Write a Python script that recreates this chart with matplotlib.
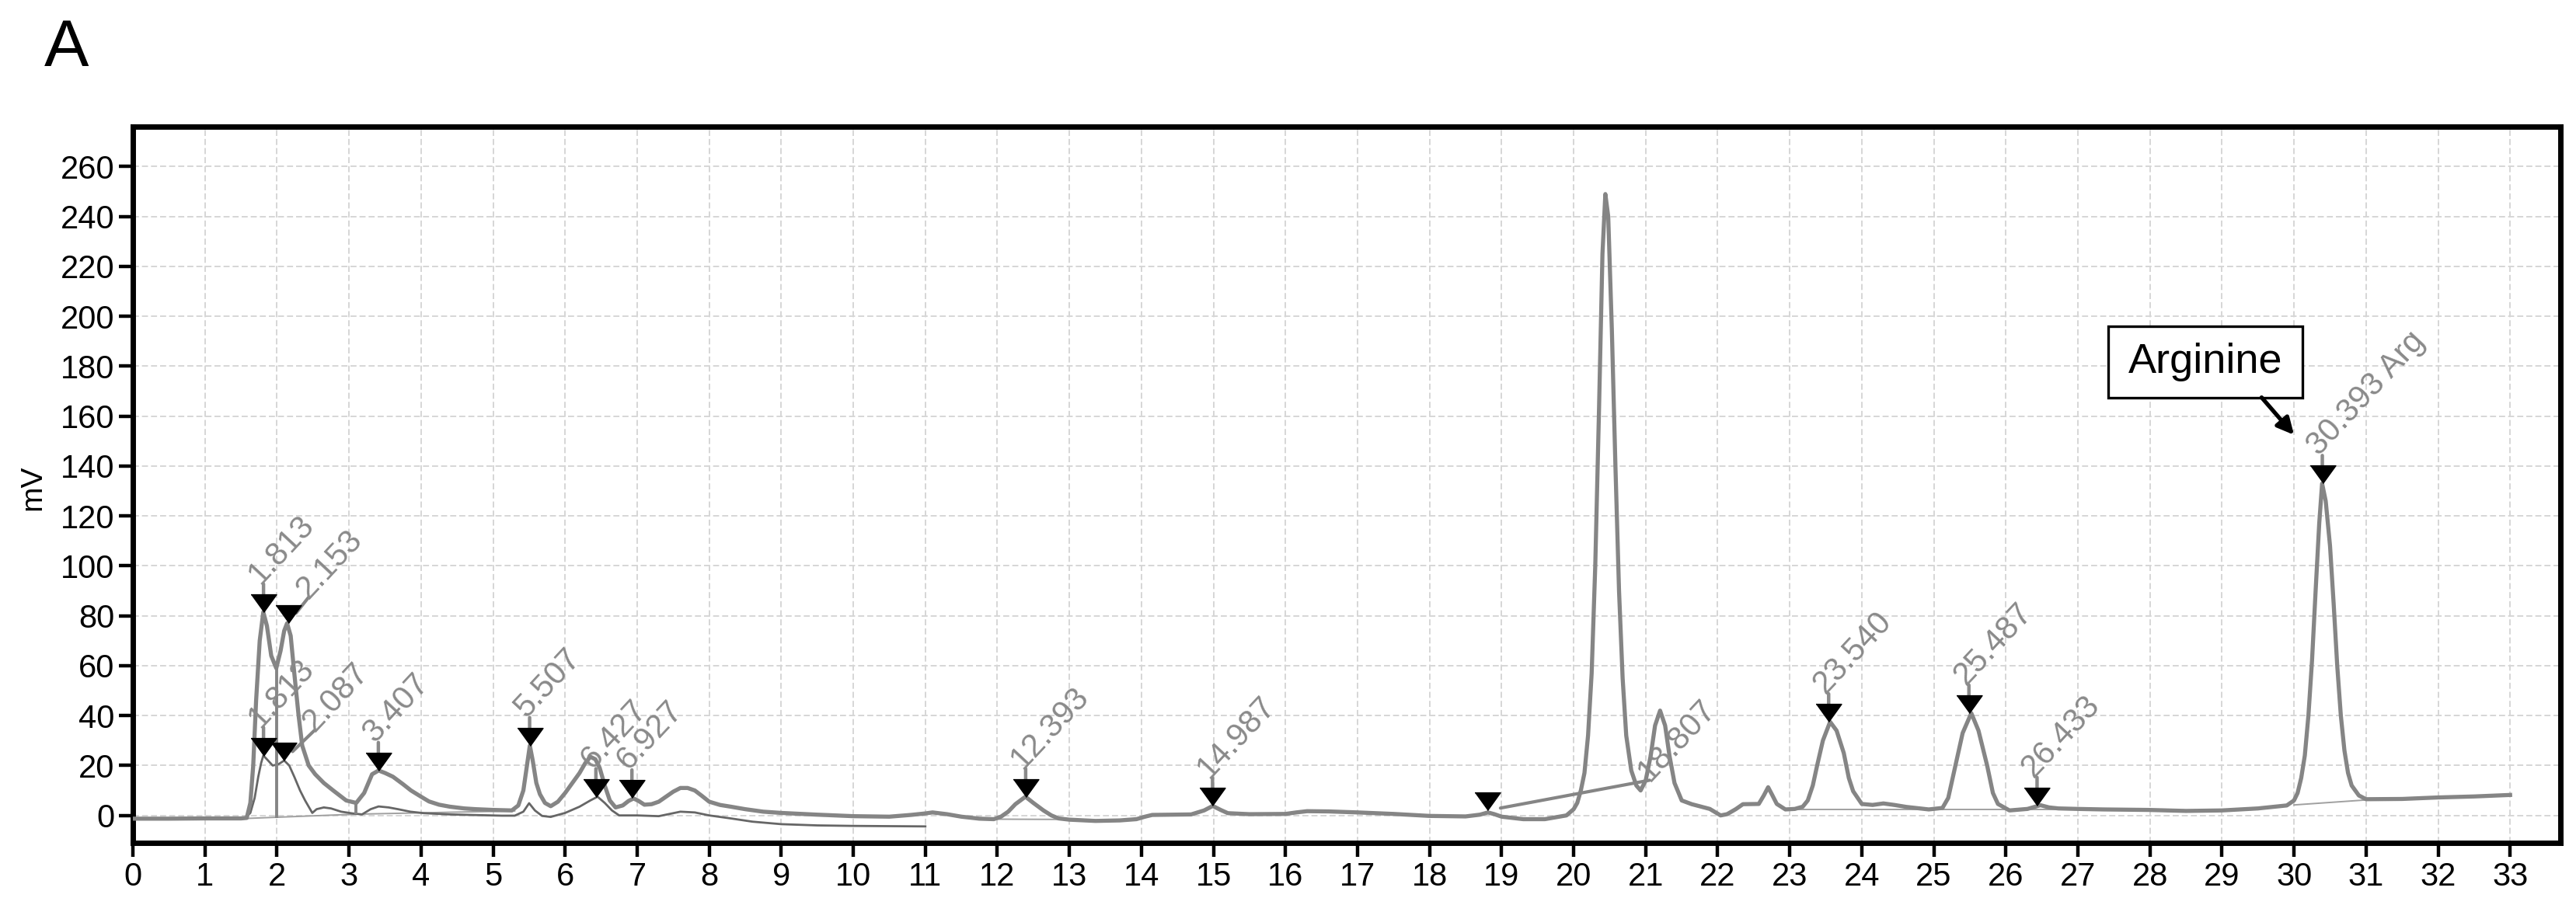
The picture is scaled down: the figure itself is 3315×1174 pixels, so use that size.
import matplotlib
matplotlib.use('Agg')
import matplotlib.pyplot as plt
from matplotlib.patches import Rectangle

plt.rcParams['font.family'] = ['Liberation Sans', 'DejaVu Sans']

# sample chromatogram (thick grey trace), retention time in min / signal in mV
sample_rt = [0.0, 0.5, 1.0, 1.5, 1.58, 1.63, 1.67, 1.71, 1.76, 1.81, 1.86, 1.92, 1.99, 2.05, 2.1,
             2.14, 2.19, 2.24, 2.3, 2.35, 2.44, 2.53, 2.65, 2.78, 2.96, 3.1, 3.21, 3.32, 3.41, 3.5,
             3.61, 3.75, 3.86, 4.0, 4.11, 4.25, 4.4, 4.6, 4.76, 5.0, 5.26, 5.35, 5.42, 5.47, 5.51,
             5.55, 5.6, 5.65, 5.72, 5.8, 5.9, 6.0, 6.1, 6.2, 6.28, 6.35, 6.42, 6.48, 6.55, 6.62,
             6.7, 6.8, 6.88, 6.95, 7.02, 7.1, 7.2, 7.3, 7.4, 7.5, 7.6, 7.7, 7.8, 7.9, 8.0,
             8.15, 8.3, 8.5, 8.75, 9.0, 9.5, 10.0, 10.5, 10.8, 11.0, 11.1, 11.3, 11.5, 11.75, 11.95,
             12.05, 12.15, 12.25, 12.39, 12.5, 12.64, 12.75, 12.85, 13.0, 13.36, 13.7, 13.93, 14.05, 14.15, 14.4,
             14.69, 14.87, 14.99, 15.1, 15.2, 15.5, 16.0, 16.15, 16.3, 16.6, 17.0, 17.5, 18.0, 18.5, 18.7,
             18.81, 18.9, 19.0, 19.3, 19.6, 19.9, 20.0, 20.05, 20.1, 20.15, 20.2, 20.25, 20.3, 20.35, 20.4,
             20.44, 20.48, 20.53, 20.58, 20.63, 20.68, 20.73, 20.8, 20.87, 20.93, 21.0, 21.07, 21.13, 21.2, 21.27,
             21.33, 21.4, 21.5, 21.64, 21.89, 22.04, 22.13, 22.25, 22.35, 22.57, 22.64, 22.7, 22.76, 22.82, 22.94,
             23.07, 23.18, 23.25, 23.32, 23.38, 23.46, 23.56, 23.65, 23.75, 23.82, 23.88, 24.0, 24.15, 24.3, 24.45,
             24.62, 24.93, 25.12, 25.2, 25.3, 25.4, 25.52, 25.62, 25.74, 25.82, 25.89, 26.05, 26.3, 26.48, 26.6,
             26.73, 27.0, 27.35, 27.98, 28.5, 29.0, 29.5, 29.9, 30.0, 30.05, 30.1, 30.15, 30.2, 30.25, 30.3,
             30.35, 30.39, 30.44, 30.5, 30.55, 30.6, 30.65, 30.7, 30.75, 30.8, 30.9, 31.0, 31.5, 32.0, 32.5,
             33.0]
sample_mv = [-1.3, -1.3, -1.2, -1.2, -1.0, 5, 20, 46, 70, 81.5, 76, 64, 59, 66, 74,
             77, 72, 57, 40, 28, 20, 16.5, 13, 10, 6, 5, 9, 16.5, 18, 17,
             15.5, 12.5, 10, 7.5, 5.6, 4.3, 3.5, 2.8, 2.5, 2.2, 2.0, 4, 10, 20, 28,
             22, 13, 8.5, 5, 3.7, 5.5, 9, 13, 17, 21, 23.5, 22.5, 19, 12, 6,
             3.2, 4, 5.8, 6.8, 5.8, 4.3, 4.5, 5.5, 7.5, 9.5, 11, 11, 10, 7.8, 5.5,
             4.2, 3.5, 2.5, 1.5, 1, 0.3, -0.3, -0.5, 0.2, 0.8, 1.2, 0.5, -0.5, -1.3, -1.5,
             -0.5, 1.5, 4.5, 7.5, 5, 2, 0, -1.2, -1.7, -2.2, -2, -1.5, -0.5, 0.2, 0.3,
             0.4, 2, 3.8, 2.2, 0.9, 0.5, 0.6, 1.2, 1.7, 1.6, 1.2, 0.6, -0.2, -0.4, 0.3,
             1.2, 0.5, -0.5, -1.5, -1.5, 0, 2.5, 5, 10, 17, 32, 57, 100, 160, 225,
             249, 240, 195, 140, 90, 55, 32, 18, 12, 10, 14, 24, 36, 42, 36,
             24, 13, 6, 4.5, 2.6, 0, 0.5, 2.5, 4.5, 4.6, 8, 11.3, 8, 4.6, 2.4,
             2.6, 3.5, 6, 12, 20, 30, 37.5, 34, 25, 15, 9.7, 4.6, 4.2, 4.8, 4.2,
             3.4, 2.4, 3, 7, 20, 33, 41, 34, 20, 9, 4.6, 2, 2.6, 4.1, 3.2,
             2.8, 2.6, 2.4, 2.2, 1.8, 2, 2.8, 4, 6, 9, 15, 24, 40, 62, 90,
             117, 133, 126, 108, 85, 60, 40, 26, 17, 12, 8, 6.5, 6.6, 7.2, 7.6,
             8.2]

# second chromatogram (thin darker trace), recorded up to 11 min
std_rt = [0.0, 1.0, 1.55, 1.63, 1.69, 1.74, 1.78, 1.81, 1.86, 1.94, 2.02, 2.1, 2.17, 2.24, 2.32,
          2.39, 2.49, 2.55, 2.65, 2.75, 2.89, 3.05, 3.18, 3.3, 3.41, 3.55, 3.68, 3.85, 4.04, 4.4,
          5.12, 5.3, 5.42, 5.5, 5.58, 5.68, 5.8, 6.0, 6.2, 6.35, 6.45, 6.55, 6.65, 6.75, 7.0,
          7.3, 7.6, 7.8, 8.0, 8.3, 8.6, 9.0, 9.5, 10.0, 11.0]
std_mv = [-1.4, -1.3, -1.2, 1, 7, 15.5, 21, 24, 22.5, 20, 20.5, 22, 20, 15.5, 10,
          6, 1, 2.5, 3.2, 2.8, 1.5, 0.8, 0.4, 2.5, 3.6, 3.2, 2.5, 1.5, 0.9, 0.4,
          -0.1, -0.1, 1.5, 4.9, 2, -0.2, -0.6, 1, 3.5, 6, 7.5, 5, 2, 0, 0,
          -0.3, 1.5, 1.2, 0, -1.2, -2.5, -3.5, -4, -4.2, -4.4]

# integration baselines (start/end retention time and level)
base_rt0 = [1.58, 3.1, 11.98, 22.95, 30.0]
base_rt1 = [3.1, 5.3, 12.85, 27.0, 31.0]
base_mv0 = [-1.2, 0.5, -1.5, 2.4, 4.2]
base_mv1 = [0.5, 1.8, -1.6, 2.4, 6.2]

# peak separation drop lines
drop_rt = [2.0, 3.1]
drop_top = [59, 5]
drop_bottom = [-1.0, 0.5]

# detected peaks
peak_rt = [1.813, 2.153, 1.813, 2.087, 3.407, 5.507, 6.427, 6.927, 12.393, 14.987,
           18.807, 23.540, 25.487, 26.433, 30.393]
peak_mv = [81.5, 77, 24, 22, 18, 28, 7.5, 7, 7.5, 3.8, 2, 37.5, 41, 4, 133]
peak_labels = ['1.813', '2.153', '1.813', '2.087', '3.407', '5.507', '6.427', '6.927', '12.393',
               '14.987', '18.807', '23.540', '25.487', '26.433', '30.393 Arg']

x_ticks = list(range(0, 34))
y_ticks = list(range(0, 261, 20))

# styles
trace_grey = '#858585'
label_grey = '#8a8a8a'
label_size = 30
label_angle = 47
leader_offsets = {1: (19, 24), 3: (29, 28), 10: (150, 28)}  # label index -> text offset (pt)

fig = plt.figure(figsize=(33.15, 11.74), dpi=100)
ax = fig.add_axes([0.0516, 0.0758, 0.9424, 0.7853])

ax.plot(std_rt, std_mv, color='#666666', lw=2.0, zorder=3)
ax.plot(sample_rt, sample_mv, color=trace_grey, lw=3.8, zorder=4)

for x0, x1, y0, y1 in zip(base_rt0, base_rt1, base_mv0, base_mv1):
    ax.plot([x0, x1], [y0, y1], color='#a0a0a0', lw=1.4, zorder=2)
ax.vlines(drop_rt, drop_bottom, drop_top, color=trace_grey, lw=2.8, zorder=4)

# peak markers: downward triangles with the tip on the apex
tri = [(-0.72, 1.0), (0.72, 1.0), (0.0, 0.0)]
ax.plot(peak_rt, peak_mv, ls='none', marker=tri, ms=33, color='black', zorder=6)

for i, (x, y, lab) in enumerate(zip(peak_rt, peak_mv, peak_labels)):
    if i in leader_offsets:
        dx, dy = leader_offsets[i]
        # leader line from the marker to the label start
        ax.annotate('', xy=(x, y), xytext=(dx, dy), textcoords='offset points',
                    arrowprops=dict(arrowstyle='-', color=trace_grey, lw=3.0,
                                    shrinkA=0, shrinkB=12),
                    zorder=5)
        ax.annotate(lab, xy=(x, y), xytext=(dx, dy - 2), textcoords='offset points',
                    rotation=label_angle, rotation_mode='anchor', ha='left', va='baseline',
                    fontsize=label_size, color=label_grey, zorder=7)
    else:
        ax.annotate('', xy=(x, y), xytext=(0, 26), textcoords='offset points',
                    arrowprops=dict(arrowstyle='-', color=label_grey, lw=3.2,
                                    shrinkA=0, shrinkB=15), zorder=5)
        ax.annotate(lab, xy=(x, y), xytext=(-3, 25), textcoords='offset points',
                    rotation=label_angle, rotation_mode='anchor', ha='left', va='baseline',
                    fontsize=label_size, color=label_grey, zorder=7)

# Arginine callout
box = Rectangle((27.42, 167.5), 2.7, 28.5, facecolor='white', edgecolor='black', lw=2.4, zorder=8)
ax.add_patch(box)
ax.text(27.42 + 1.35, 167.5 + 14.25, 'Arginine', ha='center', va='center', fontsize=39,
        color='black', zorder=9)
ax.annotate('', xy=(30.0, 152.5), xytext=(29.55, 167.5),
            arrowprops=dict(arrowstyle='-|>', color='black', lw=3.8, mutation_scale=32,
                            shrinkA=0, shrinkB=0), zorder=9)

ax.set_xlim(0, 33.7)
ax.set_ylim(-11, 276)
ax.set_xticks(x_ticks)
ax.set_yticks(y_ticks)
ax.grid(True, color='#d6d6d6', lw=1.4, ls=(0, (4, 2)))
ax.set_axisbelow(True)

for s in ax.spines.values():
    s.set_linewidth(5)
    s.set_color('black')
ax.tick_params(direction='out', length=13, width=3.2, labelsize=30, pad=4, color='black')

fig.text(0.0127, 0.465, 'mV', rotation=90, ha='center', va='center', fontsize=28)
fig.text(0.0172, 0.928, 'A', fontsize=62, ha='left', va='baseline')

fig.savefig('out.png', dpi=100)
plt.close(fig)
